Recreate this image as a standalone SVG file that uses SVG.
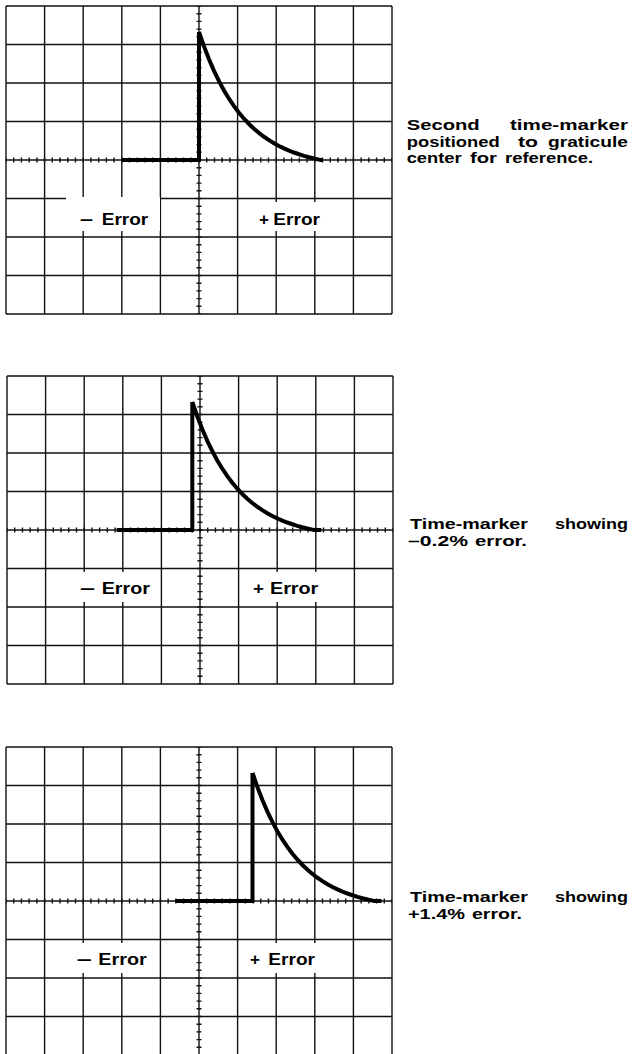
<svg xmlns="http://www.w3.org/2000/svg" xmlns:xlink="http://www.w3.org/1999/xlink" width="632" height="1054" viewBox="0 0 632 1054">
<style>
.grid{fill:none;stroke:#111;stroke-width:1.4}
.tickv{stroke:#111;stroke-width:5;stroke-dasharray:1.4 6.3;stroke-dashoffset:0.7}
.tickh{stroke:#111;stroke-width:5;stroke-dasharray:1.4 6.32;stroke-dashoffset:0.7}
.trace{fill:none;stroke:#000;stroke-width:4;stroke-linejoin:miter}
.mask{fill:#fff}
.lbl{font-family:"Liberation Sans",Arial,sans-serif;font-weight:bold;font-size:16.5px;fill:#000}
.note{font-family:"Liberation Sans",Arial,sans-serif;font-weight:bold;font-size:15.5px;fill:#000}
</style>
<defs>
<g id="graticule">
<path class="grid" d="M0 0H386M0 38.5H386M0 77H386M0 115.5H386M0 154H386M0 192.5H386M0 231H386M0 269.5H386M0 308H386M0 0V308M38.6 0V308M77.2 0V308M115.8 0V308M154.4 0V308M193 0V308M231.6 0V308M270.2 0V308M308.8 0V308M347.4 0V308M386 0V308"/>
<line class="tickv" x1="193" y1="0" x2="193" y2="308"/>
<line class="tickh" x1="0" y1="154" x2="386" y2="154"/>
</g>
<path id="decay" d="M0 0L5 14.42L10 27.32L15 38.87L20 49.2L25 58.45L30 66.72L35 74.12L40 80.75L45 86.68L50 91.98L55 96.73L60 100.97L65 104.77L70 108.18L75 111.22L80 113.94L85 116.38L90 118.56L95 120.51L100 122.26L105 123.82L110 125.22L115 126.47L120 127.59L122 128"/>
</defs>

<g id="scope1">
<use xlink:href="#graticule" transform="translate(6,6)"/>
<rect class="mask" x="66" y="197" width="94" height="34"/>
<rect class="mask" x="245" y="202" width="80" height="29"/>
<text class="lbl" y="224.5"><tspan x="80" textLength="13" lengthAdjust="spacingAndGlyphs">–</tspan> <tspan x="101.7" textLength="46.6" lengthAdjust="spacingAndGlyphs">Error</tspan></text>
<text class="lbl" y="224.5"><tspan x="259" textLength="10" lengthAdjust="spacingAndGlyphs">+</tspan> <tspan x="273.3" textLength="46.7" lengthAdjust="spacingAndGlyphs">Error</tspan></text>
<g transform="translate(199,32)">
<path class="trace" d="M-77 128H0V0"/>
<use xlink:href="#decay" class="trace"/>
<path class="trace" d="M121 128H124"/>
</g>
<text class="note" y="130"><tspan x="406.7" textLength="73" lengthAdjust="spacingAndGlyphs">Second</tspan> <tspan x="510" textLength="118" lengthAdjust="spacingAndGlyphs">time-marker</tspan></text>
<text class="note" y="146.5"><tspan x="406.7" textLength="93" lengthAdjust="spacingAndGlyphs">positioned</tspan> <tspan x="518" textLength="20" lengthAdjust="spacingAndGlyphs">to</tspan> <tspan x="548" textLength="80" lengthAdjust="spacingAndGlyphs">graticule</tspan></text>
<text class="note" y="163"><tspan x="406.7" textLength="55" lengthAdjust="spacingAndGlyphs">center</tspan> <tspan x="470" textLength="27" lengthAdjust="spacingAndGlyphs">for</tspan> <tspan x="505" textLength="88" lengthAdjust="spacingAndGlyphs">reference.</tspan></text>
</g>

<g id="scope2">
<use xlink:href="#graticule" transform="translate(7,376)"/>
<rect class="mask" x="67" y="572" width="93" height="30"/>
<rect class="mask" x="245" y="572" width="80" height="30"/>
<text class="lbl" y="594"><tspan x="80" textLength="15" lengthAdjust="spacingAndGlyphs">–</tspan> <tspan x="101.7" textLength="48.3" lengthAdjust="spacingAndGlyphs">Error</tspan></text>
<text class="lbl" y="594"><tspan x="253" textLength="11" lengthAdjust="spacingAndGlyphs">+</tspan> <tspan x="270" textLength="48.3" lengthAdjust="spacingAndGlyphs">Error</tspan></text>
<g transform="translate(192.3,402)">
<path class="trace" d="M-75.6 128H0V0"/>
<use xlink:href="#decay" class="trace"/>
<path class="trace" d="M121 128H129"/>
</g>
<text class="note" y="529"><tspan x="410" textLength="118" lengthAdjust="spacingAndGlyphs">Time-marker</tspan> <tspan x="555" textLength="73" lengthAdjust="spacingAndGlyphs">showing</tspan></text>
<text class="note" y="545.5"><tspan x="408" textLength="60" lengthAdjust="spacingAndGlyphs">–0.2%</tspan> <tspan x="475" textLength="52" lengthAdjust="spacingAndGlyphs">error.</tspan></text>
</g>

<g id="scope3">
<use xlink:href="#graticule" transform="translate(6,747)"/>
<rect class="mask" x="64" y="943" width="93" height="30"/>
<rect class="mask" x="243" y="943" width="80" height="30"/>
<text class="lbl" y="965"><tspan x="76.7" textLength="15" lengthAdjust="spacingAndGlyphs">–</tspan> <tspan x="98.3" textLength="48.4" lengthAdjust="spacingAndGlyphs">Error</tspan></text>
<text class="lbl" y="965"><tspan x="250" textLength="10" lengthAdjust="spacingAndGlyphs">+</tspan> <tspan x="268.3" textLength="46.7" lengthAdjust="spacingAndGlyphs">Error</tspan></text>
<g transform="translate(252.5,773)">
<path class="trace" d="M-77 128H0V0"/>
<use xlink:href="#decay" class="trace"/>
<path class="trace" d="M121 128H129"/>
</g>
<text class="note" y="902"><tspan x="410" textLength="118" lengthAdjust="spacingAndGlyphs">Time-marker</tspan> <tspan x="555" textLength="73" lengthAdjust="spacingAndGlyphs">showing</tspan></text>
<text class="note" y="918.5"><tspan x="408" textLength="57" lengthAdjust="spacingAndGlyphs">+1.4%</tspan> <tspan x="472" textLength="50" lengthAdjust="spacingAndGlyphs">error.</tspan></text>
</g>
</svg>
